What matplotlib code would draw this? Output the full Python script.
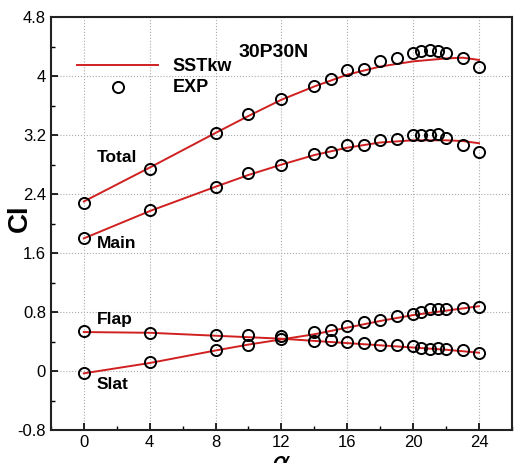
import numpy as np
import matplotlib.pyplot as plt
from matplotlib.ticker import MultipleLocator

plt.rcParams['font.family'] = ['Liberation Sans', 'DejaVu Sans']

# experiment (circles)
alpha_exp = [0, 4, 8, 10, 12, 14, 15, 16, 17, 18, 19, 20, 20.5, 21, 21.5, 22, 23, 24]
total_exp = [2.28, 2.74, 3.23, 3.48, 3.69, 3.87, 3.96, 4.08, 4.09, 4.20, 4.25, 4.31, 4.34, 4.35, 4.34, 4.32, 4.25, 4.13]
main_exp = [1.80, 2.18, 2.49, 2.68, 2.80, 2.95, 2.97, 3.07, 3.07, 3.14, 3.15, 3.20, 3.20, 3.20, 3.21, 3.16, 3.06, 2.97]
flap_exp = [0.54, 0.52, 0.49, 0.49, 0.47, 0.41, 0.42, 0.40, 0.38, 0.36, 0.36, 0.34, 0.32, 0.30, 0.32, 0.30, 0.29, 0.25]
slat_exp = [-0.02, 0.12, 0.28, 0.36, 0.43, 0.53, 0.56, 0.61, 0.66, 0.69, 0.75, 0.77, 0.80, 0.84, 0.84, 0.84, 0.86, 0.87]

# SST k-omega (lines)
alpha_cfd = [0, 4, 8, 10, 12, 14, 16, 18, 20, 22, 23, 24]
total_cfd = [2.30, 2.76, 3.23, 3.46, 3.68, 3.86, 4.02, 4.13, 4.20, 4.24, 4.25, 4.22]
main_cfd = [1.80, 2.17, 2.50, 2.66, 2.80, 2.93, 3.03, 3.10, 3.13, 3.13, 3.12, 3.09]
flap_cfd = [0.53, 0.52, 0.48, 0.46, 0.44, 0.41, 0.38, 0.35, 0.32, 0.29, 0.27, 0.25]
slat_cfd = [-0.03, 0.11, 0.28, 0.36, 0.43, 0.50, 0.59, 0.68, 0.76, 0.82, 0.85, 0.88]

red = '#d02020'

fig = plt.figure(figsize=(5.14, 4.63), dpi=100)
ax = fig.add_axes([0.099, 0.071, 0.897, 0.892])

for y in [total_cfd, main_cfd, flap_cfd, slat_cfd]:
    ax.plot(alpha_cfd, y, color=red, lw=1.4)
for y in [total_exp, main_exp, flap_exp, slat_exp]:
    ax.plot(alpha_exp, y, 'o', mfc='none', mec='black', ms=8, mew=1.4)

ax.set_xlim(-2, 26)
ax.set_ylim(-0.8, 4.8)
ax.xaxis.set_major_locator(MultipleLocator(4))
ax.xaxis.set_minor_locator(MultipleLocator(2))
ax.yaxis.set_minor_locator(MultipleLocator(0.4))
ax.set_yticks([-0.8, 0, 0.8, 1.6, 2.4, 3.2, 4, 4.8])
ax.set_yticklabels(['-0.8', '0', '0.8', '1.6', '2.4', '3.2', '4', '4.8'])
ax.tick_params(which='both', direction='in', labelsize=12, top=False, right=False)
ax.tick_params(which='major', length=5, width=1.2)
ax.tick_params(which='minor', length=3, width=1)
ax.grid(True, which='major', color='#aaaaaa', ls=':', lw=0.8)
for s in ax.spines.values():
    s.set_linewidth(1.5)
    s.set_color('#222222')

ax.set_xlabel(r'$\alpha$', fontsize=20)
ax.xaxis.set_label_coords(0.5, -0.052)
ax.set_ylabel('Cl', fontsize=20, fontweight='bold')
ax.yaxis.set_label_coords(-0.067, 0.513)
ax.yaxis.label.set_va('center')

ax.text(11.5, 4.32, '30P30N', fontsize=14, fontweight='bold', ha='center', va='center')

# legend drawn by hand
ax.plot([-0.4, 4.5], [4.15, 4.15], color=red, lw=1.4)
ax.plot([2.05], [3.85], 'o', mfc='none', mec='black', ms=8, mew=1.4)
ax.text(5.4, 4.13, 'SSTkw', fontsize=13, fontweight='bold', va='center')
ax.text(5.4, 3.85, 'EXP', fontsize=13, fontweight='bold', va='center')

ax.text(0.8, 2.9, 'Total', fontsize=12.5, fontweight='bold', va='center')
ax.text(0.8, 1.73, 'Main', fontsize=12.5, fontweight='bold', va='center')
ax.text(0.8, 0.70, 'Flap', fontsize=12.5, fontweight='bold', va='center')
ax.text(0.8, -0.18, 'Slat', fontsize=12.5, fontweight='bold', va='center')

fig.savefig('out.png', dpi=100)
